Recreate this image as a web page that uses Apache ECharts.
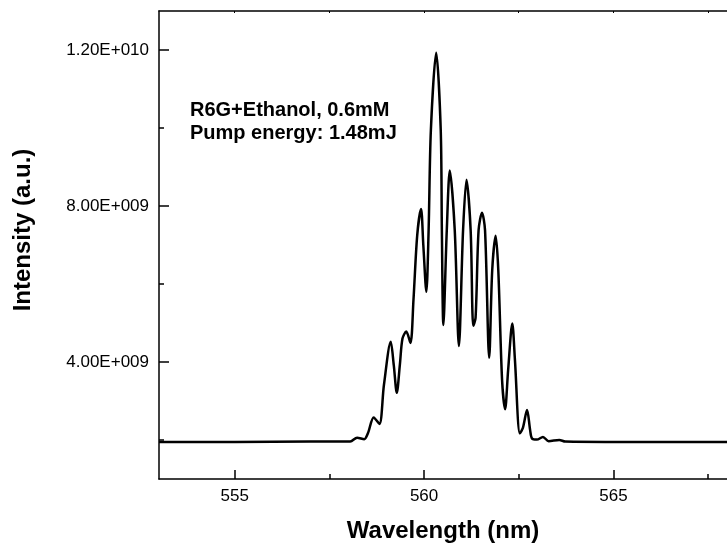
<!DOCTYPE html>
<html>
<head>
<meta charset="utf-8">
<script src="https://cdn.jsdelivr.net/npm/echarts@6/dist/echarts.min.js"></script>
<style>
  html, body { margin: 0; padding: 0; background: #fff; }
  #chart { width: 727px; height: 548px; }
</style>
</head>
<body>
<div id="chart"></div>
<script>
// spectrum: wavelength (nm) and intensity (in 1e9 a.u.)
const wavelength = [
  553.00, 555.00, 557.00, 558.05, 558.23, 558.42, 558.52, 558.67, 558.82, 558.94,
  559.12, 559.20, 559.28, 559.36, 559.43, 559.53, 559.64, 559.72, 559.82, 559.92,
  559.98, 560.06, 560.12, 560.18, 560.32, 560.44, 560.47, 560.51, 560.60, 560.68,
  560.81, 560.92, 561.03, 561.12, 561.23, 561.30, 561.36, 561.44, 561.53, 561.61,
  561.72, 561.80, 561.89, 561.96, 562.06, 562.14, 562.22, 562.33, 562.40, 562.53,
  562.61, 562.72, 562.80, 562.85, 562.98, 563.14, 563.29, 563.57, 563.73, 565.00,
  568.00
];
const intensityE9 = [
  1.95, 1.95, 1.96, 1.96, 2.06, 2.02, 2.18, 2.58, 2.41, 3.41,
  4.52, 3.92, 3.21, 3.92, 4.60, 4.78, 4.49, 5.59, 7.26, 7.92,
  7.00, 5.80, 7.38, 9.95, 11.93, 9.95, 7.38, 4.95, 7.38, 8.91,
  7.38, 4.41, 7.38, 8.67, 7.38, 4.93, 5.13, 7.38, 7.83, 7.38,
  4.11, 6.36, 7.24, 6.36, 3.54, 2.79, 3.79, 4.99, 4.05, 2.17,
  2.31, 2.77, 2.26, 2.04, 2.01, 2.08, 1.97, 2.00, 1.96, 1.95,
  1.95
];

const xTicks = [555, 557.5, 560, 562.5, 565, 567.5];
const xLabels = [555, 560, 565];
const yTicks = [2e9, 4e9, 6e9, 8e9, 1e10, 1.2e10];
const yLabels = [4e9, 8e9, 1.2e10];

const noteLines = ['R6G+Ethanol, 0.6mM', 'Pump energy: 1.48mJ'];

const FONT = 'Arial, "Liberation Sans", sans-serif';

// Origin-style "4.00E+009"
function sciLabel(v) {
  const exp = Math.floor(Math.log10(v));
  const mant = (v / Math.pow(10, exp)).toFixed(2);
  return mant + 'E+' + String(exp).padStart(3, '0');
}

const chart = echarts.init(document.getElementById('chart'), null, { renderer: 'canvas' });

const axisLine = { show: true, lineStyle: { color: '#000', width: 1.5 } };

chart.setOption({
  animation: false,
  backgroundColor: '#fff',
  grid: { left: 159, right: -8, top: 11, bottom: 68 },
  xAxis: [
    {
      type: 'value',
      position: 'bottom',
      min: 553,
      max: 568,
      axisLine: axisLine,
      axisTick: {
        show: true, inside: true, length: 9,
        customValues: xLabels,
        lineStyle: { color: '#000', width: 1.5 }
      },
      axisLabel: {
        customValues: xLabels,
        margin: 9,
        color: '#000',
        fontSize: 17,
        fontFamily: FONT
      },
      splitLine: { show: false },
      name: 'Wavelength (nm)',
      nameLocation: 'middle',
      nameGap: 40,
      nameTextStyle: { color: '#000', fontSize: 24, fontWeight: 'bold', fontFamily: FONT }
    },
    {
      // minor ticks on the bottom edge
      type: 'value',
      position: 'bottom',
      min: 553,
      max: 568,
      axisLine: { show: false },
      axisTick: {
        show: true, inside: true, length: 5,
        customValues: xTicks,
        lineStyle: { color: '#000', width: 1.5 }
      },
      axisLabel: { show: false },
      splitLine: { show: false }
    },
    {
      // top frame with tiny ticks
      type: 'value',
      position: 'top',
      min: 553,
      max: 568,
      axisLine: axisLine,
      axisTick: {
        show: true, inside: true, length: 2,
        customValues: xTicks,
        lineStyle: { color: '#000', width: 1 }
      },
      axisLabel: { show: false },
      splitLine: { show: false }
    }
  ],
  yAxis: [
    {
      type: 'value',
      position: 'left',
      min: 1e9,
      max: 1.3e10,
      axisLine: axisLine,
      axisTick: {
        show: true, inside: true, length: 10,
        customValues: yLabels,
        lineStyle: { color: '#000', width: 1.5 }
      },
      axisLabel: {
        customValues: yLabels,
        formatter: sciLabel,
        margin: 10,
        color: '#000',
        fontSize: 17,
        fontFamily: FONT
      },
      splitLine: { show: false }
    },
    {
      type: 'value',
      position: 'left',
      min: 1e9,
      max: 1.3e10,
      axisLine: { show: false },
      axisTick: {
        show: true, inside: true, length: 5,
        customValues: yTicks,
        lineStyle: { color: '#000', width: 1.5 }
      },
      axisLabel: { show: false },
      splitLine: { show: false }
    }
  ],
  graphic: [
    {
      type: 'text',
      x: 23,
      y: 230,
      rotation: Math.PI / 2,
      style: {
        text: 'Intensity (a.u.)',
        fill: '#000',
        font: 'bold 24px ' + FONT,
        textAlign: 'center',
        textVerticalAlign: 'middle'
      }
    },
    {
      type: 'text',
      x: 190,
      y: 99,
      style: {
        text: noteLines.join('\n'),
        fill: '#000',
        font: 'bold 20px ' + FONT,
        lineHeight: 23,
        textAlign: 'left',
        textVerticalAlign: 'top'
      }
    }
  ],
  series: [
    {
      type: 'line',
      xAxisIndex: 0,
      yAxisIndex: 0,
      data: wavelength.map((w, i) => [w, intensityE9[i] * 1e9]),
      smooth: 0.3,
      showSymbol: false,
      lineStyle: { color: '#000', width: 2.5 }
    }
  ]
});
</script>
</body>
</html>
